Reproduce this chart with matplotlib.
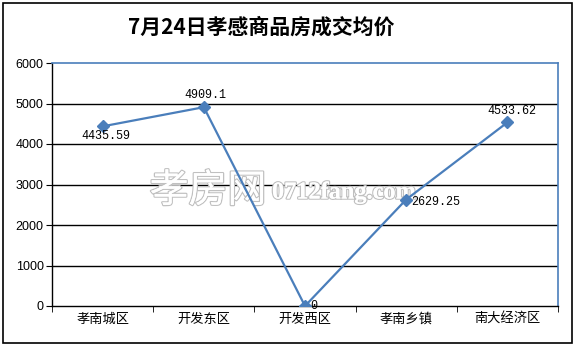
import matplotlib
matplotlib.use("Agg")
import matplotlib.pyplot as plt
from matplotlib.patches import Rectangle
import matplotlib.patheffects as pe

plt.rcParams['font.family'] = ['Noto Sans CJK SC', 'DejaVu Sans']

categories = ["孝南城区", "开发东区", "开发西区", "孝南乡镇", "南大经济区"]
values = [4435.59, 4909.1, 0, 2629.25, 4533.62]
labels = ["4435.59", "4909.1", "0", "2629.25", "4533.62"]
yticks = [0, 1000, 2000, 3000, 4000, 5000, 6000]
title = "7月24日孝感商品房成交均价"
wm_cn = "孝房网"
wm_en = "0712fang.com"

W, H = 575, 344
fig = plt.figure(figsize=(W / 100, H / 100), dpi=100)
fig.patch.set_facecolor("white")
fig.patches.append(Rectangle((2.5 / W, 1.5 / H), 569.5 / W, 340 / H, transform=fig.transFigure,
                             fill=False, edgecolor="black", linewidth=1.2))

ax = fig.add_axes([52 / W, 1 - 306 / H, (558 - 52) / W, (306 - 63) / H])
x = list(range(len(categories)))
blue = "#4a7ebb"

for yv in yticks[1:-1]:
    ax.axhline(yv, color="black", linewidth=1.0, zorder=1)

ax.plot(x, values, color=blue, linewidth=1.6, marker="D", markersize=6, zorder=3)

ax.set_xlim(-0.5, len(categories) - 0.5)
ax.set_ylim(0, 6000)
ax.set_yticks(yticks)
ax.set_yticklabels([str(v) for v in yticks], fontsize=9, family=['Liberation Sans', 'DejaVu Sans'])
ax.set_xticks(x)
ax.set_xticklabels(categories, fontsize=9.5)
ax.set_xticks([i - 0.5 for i in range(len(categories) + 1)], minor=True)
ax.tick_params(axis='x', which='major', length=0, pad=5)
ax.tick_params(axis='x', which='minor', length=4, direction='out')
ax.tick_params(axis='y', length=4, direction='out', pad=2)

for s in ["left", "bottom"]:
    ax.spines[s].set_color("black")
    ax.spines[s].set_linewidth(1.0)
for s in ["top", "right"]:
    ax.spines[s].set_color(blue)
    ax.spines[s].set_linewidth(1.2)

# (dx, dy in pixels, horizontal alignment)
offsets = [(3, -10, "center"), (2, 12, "center"), (5, 0, "left"), (5, -2, "left"), (4, 11, "center")]
mono = ['Liberation Mono', 'DejaVu Sans Mono']
for xi, v, lab, (dx, dy, ha) in zip(x, values, labels, offsets):
    ax.annotate(lab, (xi, v), xytext=(dx, dy), textcoords="offset pixels",
                ha=ha, va="center", fontsize=8.5, family=mono, zorder=4)

fig.text(261 / W, 1 - 27 / H, title, ha="center", va="center", fontsize=15, fontweight="bold")

stroke = [pe.withStroke(linewidth=1.8, foreground="#c0c0c0"), pe.Normal()]
t1 = ax.text(208 / W, 1 - 191 / H, wm_cn, transform=fig.transFigure, ha="center", va="center",
             fontsize=28, color="white", zorder=2, clip_on=False,
             family=['Noto Sans CJK SC', 'DejaVu Sans'])
t1.set_path_effects(stroke)
t2 = ax.text(272 / W, 1 - 193 / H, wm_en, transform=fig.transFigure, ha="left", va="center",
             fontsize=17.5, color="white", zorder=2, clip_on=False, fontweight="bold",
             family=['Liberation Serif', 'DejaVu Serif'])
t2.set_path_effects(stroke)

fig.savefig("out.png", dpi=100)
